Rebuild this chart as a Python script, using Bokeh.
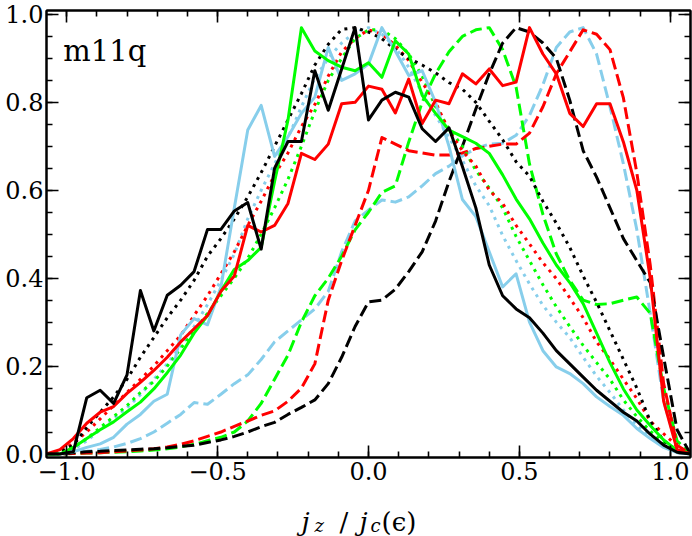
from bokeh.plotting import figure
from bokeh.layouts import column
from bokeh.models import Range1d, FixedTicker, CustomJSTickFormatter, LinearAxis, Label
from bokeh.embed import file_html
from bokeh.resources import INLINE

# bin centres of j_z / j_c(eps)
jz = [-1.0667, -1.0222, -0.9778, -0.9333, -0.8889, -0.8444, -0.8, -0.7556, -0.7111, -0.6667,
      -0.6222, -0.5778, -0.5333, -0.4889, -0.4444, -0.4, -0.3556, -0.3111, -0.2667, -0.2222,
      -0.1778, -0.1333, -0.0889, -0.0444, 0.0, 0.0444, 0.0889, 0.1333, 0.1778, 0.2222,
      0.2667, 0.3111, 0.3556, 0.4, 0.4444, 0.4889, 0.5333, 0.5778, 0.6222, 0.6667,
      0.7111, 0.7556, 0.8, 0.8444, 0.8889, 0.9333, 0.9778, 1.0222, 1.0667]

black_solid = [0, 0, 0.005, 0.128, 0.145, 0.115, 0.18, 0.372, 0.28, 0.361, 0.384, 0.415, 0.511, 0.511,
               0.553, 0.572, 0.466, 0.65, 0.711, 0.711, 0.872, 0.782, 0.876, 0.97,
               0.76, 0.805, 0.823, 0.812, 0.74, 0.711, 0.742, 0.654, 0.56, 0.43, 0.36, 0.33, 0.31,
               0.275, 0.235, 0.205, 0.175, 0.145, 0.12, 0.095, 0.075, 0.045, 0.02, 0.004, 0]
red_solid = [0, 0.01, 0.035, 0.07, 0.095, 0.108, 0.138, 0.163, 0.19, 0.22, 0.255, 0.285, 0.315, 0.37,
             0.405, 0.52, 0.505, 0.52, 0.57, 0.684, 0.67, 0.705, 0.797, 0.80,
             0.837, 0.83, 0.776, 0.853, 0.752, 0.805, 0.797, 0.865, 0.842, 0.876, 0.838, 0.846, 0.97,
             0.91, 0.865, 0.775, 0.745, 0.797, 0.797, 0.71, 0.60, 0.40, 0.12, 0.01, 0]
lime_solid = [0, 0, 0.015, 0.035, 0.055, 0.073, 0.096, 0.118, 0.148, 0.185, 0.225, 0.275, 0.315, 0.37,
              0.42, 0.44, 0.47, 0.62, 0.76, 0.97, 0.917, 0.895, 0.88, 0.872,
              0.89, 0.857, 0.94, 0.91, 0.816, 0.775, 0.737, 0.722, 0.707, 0.684, 0.635, 0.58, 0.535,
              0.48, 0.43, 0.39, 0.342, 0.275, 0.208, 0.148, 0.10, 0.065, 0.032, 0.008, 0]
sky_solid = [0, 0, 0.005, 0.015, 0.023, 0.038, 0.068, 0.09, 0.12, 0.136, 0.271, 0.308, 0.294, 0.38,
             0.56, 0.737, 0.793, 0.677, 0.722, 0.775, 0.812, 0.925, 0.85, 0.865,
             0.887, 0.97, 0.917, 0.861, 0.872, 0.80, 0.70, 0.579, 0.54, 0.46, 0.38, 0.41, 0.30,
             0.235, 0.198, 0.183, 0.16, 0.13, 0.108, 0.088, 0.058, 0.035, 0.015, 0.003, 0]

black_dotted = [0, 0.005, 0.02, 0.06, 0.095, 0.13, 0.17, 0.22, 0.265, 0.31, 0.35, 0.395, 0.45, 0.49,
                0.535, 0.585, 0.64, 0.70, 0.76, 0.82, 0.885, 0.932, 0.966, 0.97,
                0.96, 0.945, 0.92, 0.90, 0.885, 0.867, 0.845, 0.83, 0.80, 0.757, 0.715, 0.665, 0.632,
                0.575, 0.525, 0.47, 0.405, 0.345, 0.28, 0.215, 0.15, 0.075, 0.03, 0.008, 0]
red_dotted = [0, 0.005, 0.025, 0.05, 0.08, 0.11, 0.14, 0.17, 0.20, 0.235, 0.27, 0.315, 0.36, 0.41,
              0.46, 0.52, 0.575, 0.635, 0.685, 0.745, 0.795, 0.86, 0.915, 0.945,
              0.965, 0.955, 0.93, 0.895, 0.845, 0.80, 0.735, 0.69, 0.655, 0.60, 0.57, 0.52, 0.478,
              0.435, 0.399, 0.355, 0.31, 0.255, 0.215, 0.17, 0.126, 0.075, 0.046, 0.018, 0]
lime_dotted = [0, 0.003, 0.015, 0.035, 0.06, 0.085, 0.11, 0.14, 0.165, 0.2, 0.24, 0.28, 0.32, 0.36,
               0.40, 0.445, 0.50, 0.56, 0.625, 0.70, 0.78, 0.85, 0.90, 0.945,
               0.965, 0.965, 0.945, 0.91, 0.86, 0.79, 0.74, 0.70, 0.645, 0.605, 0.56, 0.495, 0.44,
               0.385, 0.335, 0.29, 0.247, 0.208, 0.17, 0.123, 0.085, 0.052, 0.025, 0.008, 0]
sky_dotted = [0, 0.0, 0.01, 0.03, 0.055, 0.08, 0.105, 0.135, 0.17, 0.205, 0.245, 0.29, 0.34, 0.395,
              0.455, 0.535, 0.60, 0.66, 0.72, 0.79, 0.855, 0.9, 0.935, 0.96,
              0.97, 0.955, 0.925, 0.88, 0.82, 0.77, 0.72, 0.668, 0.61, 0.565, 0.497, 0.44, 0.387,
              0.338, 0.30, 0.265, 0.22, 0.177, 0.14, 0.10, 0.065, 0.04, 0.018, 0.005, 0]

black_dashed = [0, 0.0, 0.003, 0.005, 0.006, 0.008, 0.009, 0.011, 0.012, 0.014, 0.017, 0.02, 0.026,
                0.032, 0.04, 0.05, 0.062, 0.072, 0.09, 0.106, 0.123, 0.16, 0.22, 0.29,
                0.346, 0.35, 0.375, 0.415, 0.46, 0.53, 0.62, 0.70, 0.785, 0.865, 0.935, 0.97, 0.96,
                0.935, 0.90, 0.805, 0.69, 0.63, 0.56, 0.49, 0.44, 0.39, 0.22, 0.055, 0]
red_dashed = [0, 0, 0.001, 0.002, 0.003, 0.005, 0.007, 0.009, 0.012, 0.016, 0.022, 0.03, 0.04,
              0.05, 0.063, 0.075, 0.088, 0.098, 0.12, 0.15, 0.205, 0.35, 0.44, 0.52,
              0.60, 0.72, 0.705, 0.69, 0.685, 0.68, 0.68, 0.685, 0.695, 0.70, 0.705, 0.705, 0.73,
              0.79, 0.865, 0.915, 0.965, 0.955, 0.92, 0.81, 0.64, 0.43, 0.16, 0.02, 0]
lime_dashed = [0, 0, 0.001, 0.002, 0.003, 0.004, 0.005, 0.007, 0.009, 0.012, 0.016, 0.022, 0.03,
               0.038, 0.05, 0.075, 0.115, 0.17, 0.225, 0.30, 0.36, 0.40, 0.45, 0.51,
               0.55, 0.595, 0.61, 0.71, 0.80, 0.865, 0.915, 0.95, 0.965, 0.97, 0.92, 0.835, 0.66,
               0.545, 0.455, 0.395, 0.35, 0.34, 0.342, 0.35, 0.357, 0.32, 0.15, 0.03, 0]
sky_dashed = [0, 0, 0.003, 0.006, 0.01, 0.016, 0.024, 0.035, 0.05, 0.07, 0.09, 0.117, 0.113,
              0.136, 0.16, 0.18, 0.215, 0.255, 0.28, 0.305, 0.33, 0.37, 0.46, 0.53,
              0.555, 0.578, 0.573, 0.585, 0.61, 0.638, 0.655, 0.678, 0.695, 0.705, 0.707, 0.725, 0.77,
              0.84, 0.925, 0.96, 0.97, 0.91, 0.79, 0.66, 0.51, 0.32, 0.12, 0.015, 0]

x_major = [-1.0, -0.5, 0.0, 0.5, 1.0]
x_minor = [-1.0, -0.9, -0.8, -0.7, -0.6, -0.5, -0.4, -0.3, -0.2, -0.1, 0.0,
           0.1, 0.2, 0.3, 0.4, 0.5, 0.6, 0.7, 0.8, 0.9, 1.0]
y_major = [0.0, 0.2, 0.4, 0.6, 0.8, 1.0]
y_minor = [0.0, 0.05, 0.1, 0.15, 0.2, 0.25, 0.3, 0.35, 0.4, 0.45, 0.5, 0.55, 0.6, 0.65,
           0.7, 0.75, 0.8, 0.85, 0.9, 0.95, 1.0]

panel_name = "m11q"
# x label pieces: (text, size, style, subscript?)
xlabel_pieces = [("j", "26px", "italic", False), ("z", "18px", "italic", True),
                 ("/", "26px", "normal", False), ("j", "26px", "italic", False),
                 ("c", "18px", "italic", True), ("(\u03f5)", "26px", "normal", False)]
xlabel_left = [301, 314, 339, 359, 370, 381]   # page pixel x of each piece

SKY, LIME, RED, BLACK = "#87CEEB", "#00FF00", "#FF0000", "#000000"
DASH, DOT = "12 5", "3 5"
SERIF = "DejaVu Serif"

layers = [
    (sky_dashed, SKY, DASH), (lime_dashed, LIME, DASH), (red_dashed, RED, DASH), (black_dashed, BLACK, DASH),
    (sky_dotted, SKY, DOT), (lime_dotted, LIME, DOT), (red_dotted, RED, DOT), (black_dotted, BLACK, DOT),
    (sky_solid, SKY, "solid"), (lime_solid, LIME, "solid"), (red_solid, RED, "solid"), (black_solid, BLACK, "solid"),
]
for ys, _, _ in layers:
    assert len(ys) == len(jz), len(ys)

W, H_MAIN, H_STRIP = 692, 492, 44

p = figure(width=W, height=H_MAIN,
           x_range=Range1d(-1.0667, 1.0667), y_range=Range1d(-0.008, 1.009),
           x_axis_type=None, y_axis_type=None,
           output_backend="svg", toolbar_location=None)
p.min_border_left = 46
p.min_border_right = 2
p.min_border_top = 10
p.min_border_bottom = 35
p.outline_line_color = "black"
p.outline_line_width = 2
p.background_fill_color = "white"
p.border_fill_color = "white"

fmt = CustomJSTickFormatter(code="return tick.toFixed(1).replace('-', '\u2212');")
blank = CustomJSTickFormatter(code="return '';")


def make_axis(major, minor, show, standoff):
    ax = LinearAxis(ticker=FixedTicker(ticks=major, minor_ticks=minor))
    ax.axis_line_color = "black"
    ax.axis_line_width = 2
    ax.major_tick_in = 12
    ax.major_tick_out = 0
    ax.minor_tick_in = 6
    ax.minor_tick_out = 0
    ax.major_tick_line_width = 1.6
    ax.minor_tick_line_width = 1.6
    ax.major_tick_line_color = "black"
    ax.minor_tick_line_color = "black"
    if show:
        ax.formatter = fmt
        ax.major_label_text_font = SERIF
        ax.major_label_text_font_size = "24px"
        ax.major_label_text_color = "black"
        ax.major_label_standoff = standoff
    else:
        ax.formatter = blank
        ax.major_label_text_font_size = "0px"
        ax.major_label_standoff = 0
    return ax


p.add_layout(make_axis(x_major, x_minor, True, 4), "below")
p.add_layout(make_axis(y_major, y_minor, True, 3), "left")
p.add_layout(make_axis(x_major, x_minor, False, 0), "above")
p.add_layout(make_axis(y_major, y_minor, False, 0), "right")

for ys, col, dash in layers:
    p.line(jz, ys, line_color=col, line_width=3, line_dash=dash, line_join="round")

p.add_layout(Label(x=-1.011, y=0.916, text=panel_name, text_font=SERIF,
                   text_font_size="29px", text_color="black", text_baseline="alphabetic"))

# strip below the plot that carries the x-axis label (its frame = its whole canvas, pixel coords)
s = figure(width=W, height=H_STRIP, x_range=Range1d(0, W), y_range=Range1d(0, H_STRIP),
           x_axis_type=None, y_axis_type=None, title=None,
           output_backend="svg", toolbar_location=None)
s.frame_align = False
s.min_border_left = 0
s.min_border_right = 0
s.min_border_top = 0
s.min_border_bottom = 0
s.outline_line_color = None
s.background_fill_color = "white"
s.border_fill_color = "white"
base_main = (H_MAIN + H_STRIP) - 521
base_sub = (H_MAIN + H_STRIP) - 525
for (t, size, style, sub), xl in zip(xlabel_pieces, xlabel_left):
    s.add_layout(Label(x=xl, y=base_sub if sub else base_main, text=t, text_font=SERIF,
                       text_font_size=size, text_font_style=style, text_color="black",
                       text_baseline="alphabetic", text_align="left"))

layout = column(p, s, spacing=0)
open("out.html", "w").write(file_html(layout, INLINE))
